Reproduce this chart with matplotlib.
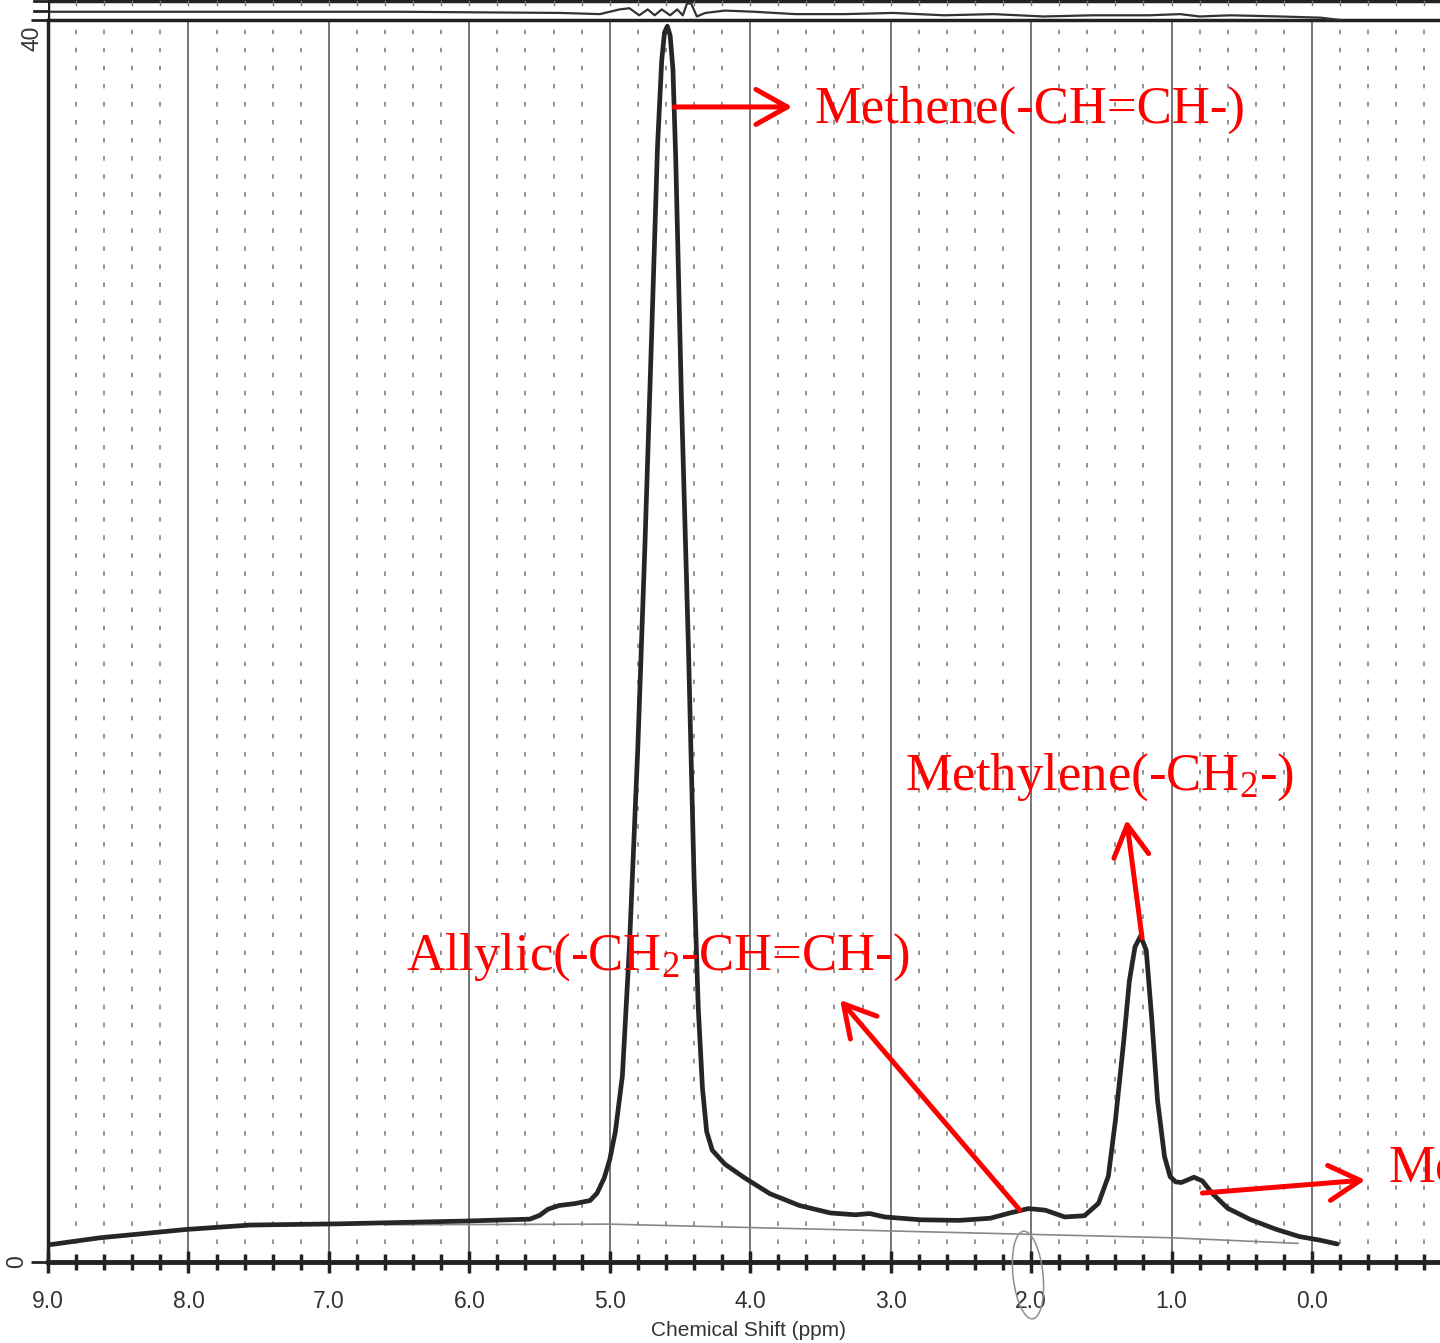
import numpy as np
import matplotlib
matplotlib.use("Agg")
import matplotlib.pyplot as plt
from matplotlib.patches import FancyArrowPatch, Ellipse
from matplotlib.transforms import IdentityTransform

plt.rcParams['mathtext.fontset'] = 'custom'
plt.rcParams['mathtext.rm'] = 'Liberation Serif'
plt.rcParams['mathtext.it'] = 'Liberation Serif:italic'

# ---- spectrum (ppm, intensity) ----
ppm = [9.00, 8.63, 8.01, 7.56, 6.92, 6.02, 5.57, 5.50, 5.44, 5.36, 5.25, 5.14, 5.09, 5.04, 5.00,
       4.96, 4.91, 4.86, 4.80, 4.75, 4.70, 4.66, 4.63, 4.61, 4.59, 4.57, 4.55, 4.53, 4.49, 4.44,
       4.40, 4.37, 4.34, 4.31, 4.27, 4.18, 4.04, 3.86, 3.65, 3.43, 3.25, 3.15, 3.04, 2.79,
       2.51, 2.29, 2.15, 2.02, 1.90, 1.76, 1.62, 1.52, 1.45, 1.40, 1.34, 1.30, 1.26,
       1.22, 1.18, 1.14, 1.10, 1.05, 1.01, 0.97, 0.93, 0.84, 0.78, 0.71, 0.60, 0.44, 0.26,
       0.09, -0.06, -0.18]
intensity = [0.55, 0.78, 1.05, 1.19, 1.23, 1.32, 1.38, 1.50, 1.70, 1.82, 1.88, 1.98, 2.22, 2.70, 3.30,
             4.20, 6.00, 10.15, 16.59, 23.03, 30.12, 35.92, 38.70, 39.60, 39.80, 39.50, 38.40, 35.50, 27.87, 19.82,
             12.41, 8.20, 5.60, 4.20, 3.60, 3.15, 2.71, 2.20, 1.82, 1.58, 1.52, 1.56, 1.45, 1.36,
             1.34, 1.41, 1.58, 1.72, 1.67, 1.45, 1.49, 1.89, 2.76, 4.54, 7.13, 9.06, 10.15,
             10.50, 10.04, 7.79, 5.22, 3.40, 2.75, 2.58, 2.56, 2.73, 2.61, 2.21, 1.73, 1.37, 1.06,
             0.82, 0.70, 0.58]

# reference baseline (thin line)
base_ppm = [6.60, 5.00, 3.00, 1.00, 0.10]
base_int = [1.20, 1.22, 1.00, 0.78, 0.60]

# integral trace in top band
trace_ppm = [9.00, 7.92, 6.50, 5.35, 5.07, 4.93, 4.86, 4.79, 4.73, 4.68, 4.63, 4.57,
             4.52, 4.48, 4.45, 4.42, 4.38, 4.32, 4.18, 3.97, 3.68, 3.33, 2.98, 2.62,
             2.27, 1.91, 1.56, 1.16, 0.94, 0.80, 0.58, 0.23, -0.06, -0.20]
trace_val = [7.0, 7.0, 7.0, 6.0, 5.0, 9.0, 10.0, 4.0, 9.0, 4.0, 9.0, 4.0,
             9.0, 4.0, 14.0, 14.0, 3.0, 6.0, 8.0, 7.0, 5.0, 5.0, 6.0, 4.0,
             5.0, 3.0, 4.0, 4.0, 5.0, 3.0, 4.0, 3.0, 2.0, 0.0]

major_ticks = [9, 8, 7, 6, 5, 4, 3, 2, 1, 0]
major_labels = ["9.0", "8.0", "7.0", "6.0", "5.0", "4.0", "3.0", "2.0", "1.0", "0.0"]
minor_ticks = [round(9 - 0.2 * i, 1) for i in range(50)]

W, H = 1440, 1343
fig = plt.figure(figsize=(W / 100, H / 100), dpi=100)

x_left_px, x_zero_px, px_per_ppm = 48, 1312, 140.4
xmax = 9.0
xmin = (x_zero_px - W) / px_per_ppm
ax_bottom_px, ax_top_px = 1262, 20
ax = fig.add_axes([x_left_px / W, 1 - ax_bottom_px / H, (W - x_left_px) / W,
                   (ax_bottom_px - ax_top_px) / H])
ax.set_xlim(xmax, xmin)
ax.set_ylim(0, 40)

# grid
for t in minor_ticks:
    if abs(t - round(t)) < 1e-6:
        continue
    ax.axvline(t, color='#8a8a8a', lw=1.3, ls=(0, (2.5, 7.5)), zorder=1)
for t in major_ticks[1:]:
    ax.axvline(t, color='#6a6a6a', lw=1.3, zorder=1)

ax.plot(base_ppm, base_int, color='#888888', lw=1.2, zorder=2)
ax.plot(ppm, intensity, color='#262626', lw=3.4, solid_capstyle='round',
        solid_joinstyle='round', zorder=3)

ax.spines['right'].set_visible(False)
ax.spines['left'].set_linewidth(2.5)
ax.spines['bottom'].set_linewidth(3.5)
ax.spines['top'].set_linewidth(2.5)
for s in ['left', 'bottom', 'top']:
    ax.spines[s].set_color('#222222')

ax.set_xticks(major_ticks)
ax.set_xticklabels(major_labels)
ax.set_xticks(minor_ticks, minor=True)
ax.tick_params(axis='x', which='both', direction='inout', width=2.5, color='#222222',
               labelsize=16.5, labelcolor='#333333', pad=12)
ax.tick_params(axis='x', which='major', length=16)
ax.tick_params(axis='x', which='minor', length=12)
for lb in ax.get_xticklabels():
    lb.set_family('Liberation Sans')

ax.set_yticks([0, 40])
ax.set_yticklabels(['0', ''], rotation=90, va='center')
ax.tick_params(axis='y', direction='out', length=12, width=2, color='#222222',
               labelsize=16.5, labelcolor='#333333', pad=2)
for lb in ax.get_yticklabels():
    lb.set_family('Liberation Sans')
fig.text(32 / W, 1 - 38 / H, '40', rotation=90, ha='center', va='center',
         fontsize=16.5, color='#333333', family='Liberation Sans')

fig.text(748 / W, 1 - 1330 / H, 'Chemical Shift (ppm)', ha='center', va='center',
         fontsize=15, color='#333333', family='Liberation Sans')

# handwritten loop around the 2.0 label (figure pixels)
fig.add_artist(Ellipse((1028, H - 1275), 30, 88, angle=6, fill=False, ec='#8f8f8f',
                       lw=1.1, transform=IdentityTransform()))

# top band with integral trace
band = fig.add_axes([x_left_px / W, 1 - ax_top_px / H, (W - x_left_px) / W, ax_top_px / H])
band.set_xlim(xmax, xmin)
band.set_ylim(0, 17)
band.axis('off')
band.axhline(16.5, color='#222222', lw=2.5)
band.plot(trace_ppm, trace_val, color='#333333', lw=1.6)
for t in minor_ticks:
    band.plot([t, t], [16.5, 12.5], color='#777777', lw=1.0)
band.plot([9.0, 9.0], [0, 17], color='#222222', lw=2.5)
for yy in [16.5, 8.0]:
    band.plot([9.1, 9.0], [yy, yy], color='#222222', lw=2, clip_on=False)

# annotations
red = '#ff0000'
tfont = dict(family='Liberation Serif', fontsize=38, color=red)
ax.text(3.54, 36.69, 'Methene(-CH=CH-)', va='baseline', ha='left', **tfont)
ax.text(2.90, 15.20, r'Methylene(-CH$_2$-)', va='baseline', ha='left', **tfont)
ax.text(6.45, 9.41, r'Allylic(-CH$_2$-CH=CH-)', va='baseline', ha='left', **tfont)
ax.text(-0.54, 2.58, r'Methyl(-CH$_3$)', va='baseline', ha='left', clip_on=False, **tfont)

arrows = [((4.54, 37.2), (3.70, 37.2)),
          ((1.21, 10.44), (1.32, 14.24)),
          ((2.08, 1.67), (3.36, 8.44)),
          ((0.78, 2.22), (-0.38, 2.64))]
for a, b in arrows:
    ax.add_patch(FancyArrowPatch(a, b, arrowstyle='->,head_length=0.75,head_width=0.42',
                                 mutation_scale=30, color=red, lw=3.6,
                                 shrinkA=0, shrinkB=0, zorder=5, clip_on=False))

fig.savefig('out.png', dpi=100)
